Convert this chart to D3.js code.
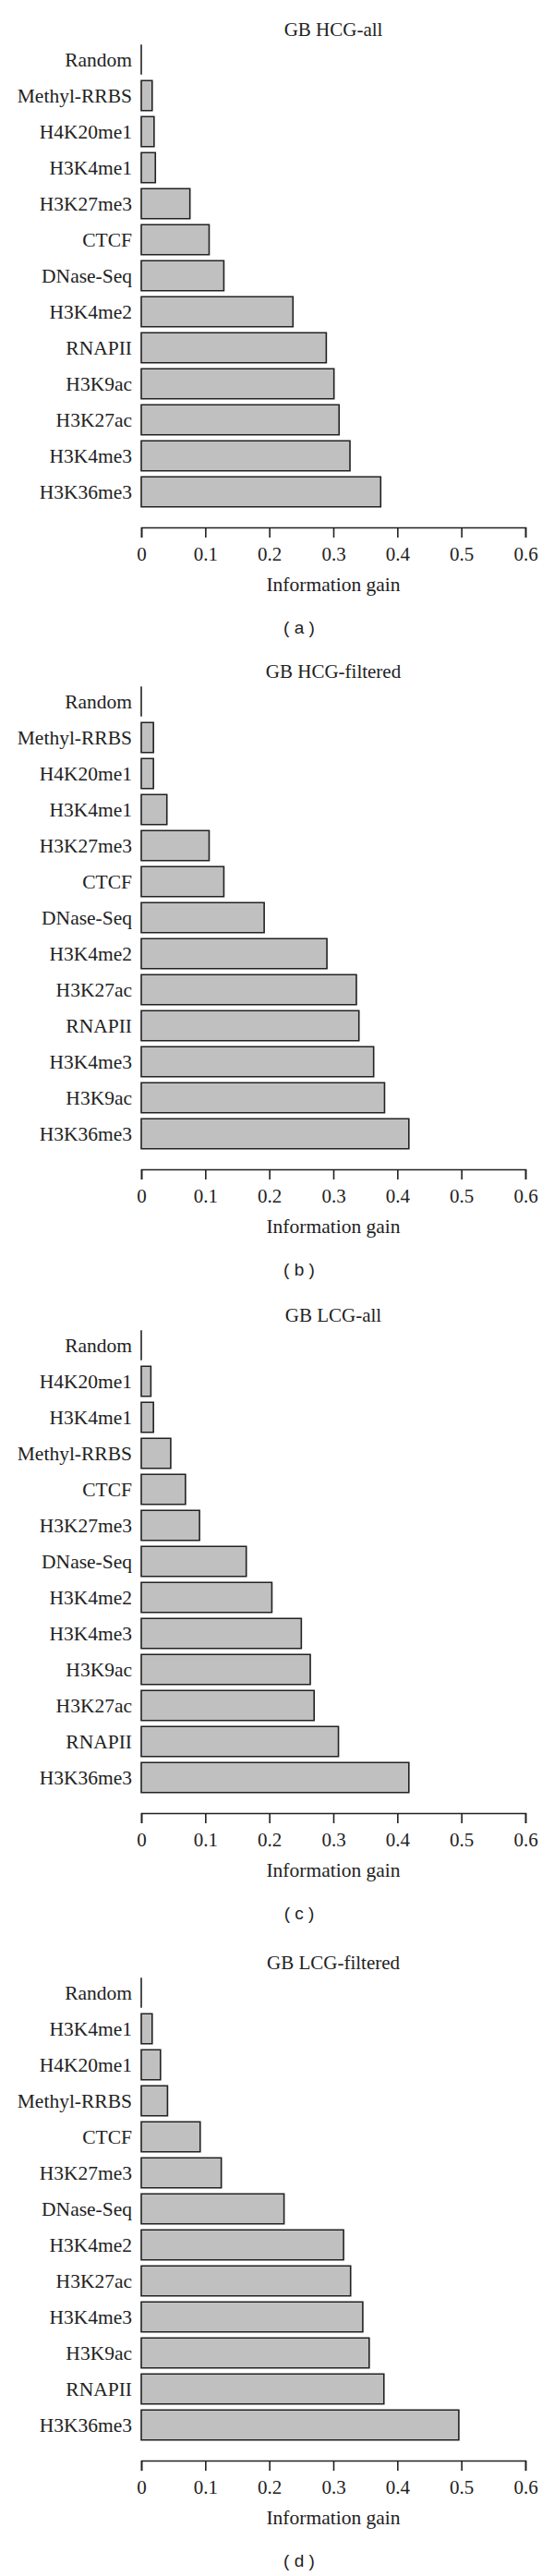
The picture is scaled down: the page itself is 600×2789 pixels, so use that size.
<!DOCTYPE html>
<html>
<head>
<meta charset="utf-8">
<script src="https://d3js.org/d3.v7.min.js"></script>
<style>
  body { margin: 0; background: #fff; }
  svg { display: block; }
</style>
</head>
<body>
<div id="chart"></div>
<script>
// panel titles and sub-labels
var titles = ["GB HCG-all", "GB HCG-filtered", "GB LCG-all", "GB LCG-filtered"];
var subLabels = ["( a )", "( b )", "( c )", "( d )"];

// categories per panel (top to bottom)
var catsA = ["Random", "Methyl-RRBS", "H4K20me1", "H3K4me1", "H3K27me3", "CTCF", "DNase-Seq",
             "H3K4me2", "RNAPII", "H3K9ac", "H3K27ac", "H3K4me3", "H3K36me3"];
var catsB = ["Random", "Methyl-RRBS", "H4K20me1", "H3K4me1", "H3K27me3", "CTCF", "DNase-Seq",
             "H3K4me2", "H3K27ac", "RNAPII", "H3K4me3", "H3K9ac", "H3K36me3"];
var catsC = ["Random", "H4K20me1", "H3K4me1", "Methyl-RRBS", "CTCF", "H3K27me3", "DNase-Seq",
             "H3K4me2", "H3K4me3", "H3K9ac", "H3K27ac", "RNAPII", "H3K36me3"];
var catsD = ["Random", "H3K4me1", "H4K20me1", "Methyl-RRBS", "CTCF", "H3K27me3", "DNase-Seq",
             "H3K4me2", "H3K27ac", "H3K4me3", "H3K9ac", "RNAPII", "H3K36me3"];

// information gain values (same order as categories)
var valsA = [0, 0.017, 0.020, 0.022, 0.076, 0.106, 0.129, 0.237, 0.289, 0.301, 0.309, 0.326, 0.374];
var valsB = [0, 0.019, 0.019, 0.040, 0.106, 0.129, 0.192, 0.290, 0.336, 0.340, 0.363, 0.380, 0.418];
var valsC = [0, 0.015, 0.019, 0.046, 0.069, 0.091, 0.164, 0.204, 0.250, 0.264, 0.270, 0.308, 0.418];
var valsD = [0, 0.017, 0.030, 0.041, 0.092, 0.125, 0.223, 0.316, 0.327, 0.346, 0.356, 0.379, 0.496];

var xTicks = [0, 0.1, 0.2, 0.3, 0.4, 0.5, 0.6];

var width = 600, height = 2789;
var offsets = [0, 695, 1392, 2093];
var serif = "'Liberation Serif', 'Times New Roman', serif";

var svg = d3.select("#chart").append("svg")
    .attr("width", width)
    .attr("height", height);

var x = d3.scaleLinear().domain([0, 0.6]).range([153, 569]);

var panels = [
    {cats: catsA, vals: valsA},
    {cats: catsB, vals: valsB},
    {cats: catsC, vals: valsC},
    {cats: catsD, vals: valsD}
];

panels.forEach(function(p, i) {
    var oy = offsets[i];
    var g = svg.append("g");

    var y = d3.scaleBand()
        .domain(p.cats)
        .range([oy + 45, oy + 552])
        .paddingInner(0.17)
        .paddingOuter(0.085);

    var data = p.cats.map(function(c, j) { return {cat: c, val: p.vals[j]}; });

    // title
    g.append("text")
        .attr("x", 361)
        .attr("y", oy + 39)
        .attr("text-anchor", "middle")
        .style("font-family", serif)
        .style("font-size", "21px")
        .style("fill", "#222")
        .text(titles[i]);

    // bars (drawn as paths so zero-width bars still show their outline)
    g.selectAll("path.bar")
        .data(data)
        .enter().append("path")
        .attr("class", "bar")
        .attr("d", function(d) {
            var x0 = x(0), w = x(d.val) - x(0), y0 = y(d.cat), h = y.bandwidth();
            return "M" + x0 + "," + y0 + "h" + w + "v" + h + "h" + (-w) + "Z";
        })
        .style("fill", "#c0c0c0")
        .style("stroke", "#222")
        .style("stroke-width", 1.6);

    // category labels
    g.selectAll("text.cat")
        .data(data)
        .enter().append("text")
        .attr("class", "cat")
        .attr("x", 143)
        .attr("y", function(d) { return y(d.cat) + y.bandwidth() / 2; })
        .attr("dy", "0.34em")
        .attr("text-anchor", "end")
        .style("font-family", serif)
        .style("font-size", "21.5px")
        .style("fill", "#222")
        .text(function(d) { return d.cat; });

    // x axis
    var axis = g.append("g")
        .attr("transform", "translate(0," + (oy + 571) + ")")
        .call(d3.axisBottom(x)
            .tickValues(xTicks)
            .tickFormat(function(d) { return d === 0 ? "0" : d3.format(".1f")(d); })
            .tickSize(11)
            .tickPadding(10));
    axis.select(".domain").style("stroke", "#222").style("stroke-width", 1.6);
    axis.selectAll(".tick line").style("stroke", "#222").style("stroke-width", 1.6);
    axis.selectAll(".tick text")
        .style("font-family", serif)
        .style("font-size", "21px")
        .style("fill", "#222");

    // axis title
    g.append("text")
        .attr("x", 361)
        .attr("y", oy + 640)
        .attr("text-anchor", "middle")
        .style("font-family", serif)
        .style("font-size", "21.5px")
        .style("fill", "#222")
        .text("Information gain");

    // sub label
    g.append("text")
        .attr("x", 324)
        .attr("y", oy + 686)
        .attr("text-anchor", "middle")
        .style("font-family", "'Liberation Sans', Arial, sans-serif")
        .style("font-size", "19px")
        .style("fill", "#222")
        .attr("xml:space", "preserve")
        .text(subLabels[i]);
});
</script>
</body>
</html>
